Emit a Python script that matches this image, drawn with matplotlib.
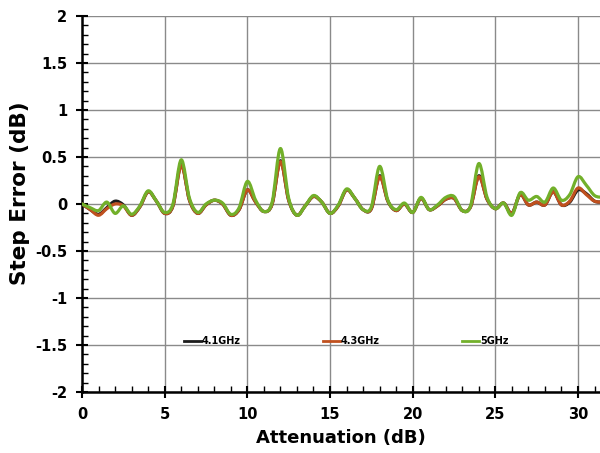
import numpy as np
import matplotlib
matplotlib.use('Agg')
from matplotlib import pyplot as plt
from matplotlib.path import Path
from matplotlib.patches import PathPatch
from matplotlib.lines import Line2D
from matplotlib.ticker import MultipleLocator, FuncFormatter

# attenuation steps (dB)
atten = np.arange(0, 32, 0.5)

err_41 = [0.00, -0.06, -0.11, -0.04, 0.03, -0.01, -0.12, -0.03, 0.13, 0.03,
          -0.10, -0.02, 0.42, 0.04, -0.10, -0.01, 0.04, 0.00, -0.12, -0.06,
          0.15, 0.02, -0.08, 0.00, 0.46, 0.04, -0.12, -0.02, 0.08, 0.02,
          -0.10, -0.02, 0.15, 0.06, -0.06, -0.05, 0.30, 0.03, -0.07, 0.00,
          -0.09, 0.06, -0.06, -0.02, 0.05, 0.06, -0.07, -0.03, 0.30, 0.05,
          -0.05, 0.01, -0.10, 0.10, -0.01, 0.02, -0.01, 0.13, -0.01, 0.02,
          0.15, 0.11, 0.03, 0.02]
err_43 = [0.00, -0.06, -0.12, -0.05, 0.00, -0.02, -0.12, -0.03, 0.13, 0.03,
          -0.10, -0.02, 0.41, 0.04, -0.10, -0.01, 0.04, 0.00, -0.12, -0.06,
          0.15, 0.02, -0.08, 0.00, 0.45, 0.04, -0.12, -0.02, 0.08, 0.02,
          -0.10, -0.02, 0.15, 0.06, -0.06, -0.05, 0.29, 0.03, -0.07, 0.00,
          -0.09, 0.06, -0.06, -0.02, 0.05, 0.06, -0.07, -0.03, 0.29, 0.05,
          -0.05, 0.01, -0.10, 0.10, -0.01, 0.02, -0.01, 0.13, -0.01, 0.03,
          0.17, 0.10, 0.03, 0.02]
err_5 = [0.00, -0.04, -0.07, 0.02, -0.10, -0.02, -0.11, -0.02, 0.14, 0.03,
         -0.09, 0.00, 0.47, 0.06, -0.09, 0.00, 0.04, 0.01, -0.11, -0.04,
         0.24, 0.04, -0.08, 0.02, 0.59, 0.06, -0.12, -0.02, 0.09, 0.02,
         -0.10, -0.01, 0.16, 0.06, -0.06, -0.03, 0.40, 0.04, -0.06, 0.01,
         -0.09, 0.07, -0.06, -0.01, 0.07, 0.08, -0.07, -0.02, 0.43, 0.07,
         -0.05, 0.01, -0.12, 0.12, 0.04, 0.08, 0.02, 0.17, 0.04, 0.10,
         0.29, 0.20, 0.09, 0.07]

labels = ['4.1GHz', '4.3GHz', '5GHz']
colors = ['#1c1c1c', '#c0501e', '#72b02a']


def smooth_path(x, y):
	# excel style smoothed line: catmull-rom segments as cubic beziers
	p = np.column_stack((x, y)).astype(float)
	verts = [p[0]]
	codes = [Path.MOVETO]
	n = len(p)
	for i in range(n - 1):
		p0 = p[max(i - 1, 0)]
		p1 = p[i]
		p2 = p[i + 1]
		p3 = p[min(i + 2, n - 1)]
		verts += [p1 + (p2 - p0) / 6, p2 - (p3 - p1) / 6, p2]
		codes += [Path.CURVE4] * 3
	return Path(verts, codes)


plt.rcParams['font.family'] = 'DejaVu Sans'
plt.rcParams['font.weight'] = 'bold'
plt.rcParams['axes.unicode_minus'] = False

fig = plt.figure(figsize=(6, 4.53), dpi=100)
ax = fig.add_axes([0.1367, 0.1347, 0.8633, 0.83])

for ys, c in zip([err_41, err_43, err_5], colors):
	ax.add_patch(PathPatch(smooth_path(atten, ys), fill=False, edgecolor=c,
						   lw=2.3, capstyle='round', joinstyle='round', zorder=3))

ax.set_xlim(0, 31.33)
ax.set_ylim(-2, 2)
ax.xaxis.set_major_locator(MultipleLocator(5))
ax.xaxis.set_minor_locator(MultipleLocator(1))
ax.yaxis.set_major_locator(MultipleLocator(0.5))
ax.yaxis.set_minor_locator(MultipleLocator(0.1))
ax.yaxis.set_major_formatter(FuncFormatter(lambda v, p: '%g' % v))
ax.grid(True, which='major', color='#8a8a8a', lw=1.0)
ax.set_axisbelow(True)

for s in ['top', 'right']:
	ax.spines[s].set_visible(False)
for s in ['left', 'bottom']:
	ax.spines[s].set_linewidth(1.8)
ax.tick_params(which='major', direction='inout', length=9, width=1.5,
			   labelsize=10.5, pad=6)
ax.tick_params(which='minor', direction='in', length=4, width=1.0)
for t in ax.get_xticklabels() + ax.get_yticklabels():
	t.set_fontweight('bold')

ax.set_xlabel('Attenuation (dB)', fontsize=13, fontweight='bold', labelpad=5)
ax.set_ylabel('Step Error (dB)', fontsize=15.5, fontweight='bold')
ax.yaxis.set_label_coords(-0.1, 0.529)

handles = [Line2D([], [], color=c, lw=2.0) for c in colors]
ax.legend(handles, labels, ncol=3, loc='center', bbox_to_anchor=(0.51, 0.135),
		  frameon=False, handlelength=1.7, handletextpad=0.1, columnspacing=8.5,
		  prop={'size': 7, 'weight': 'bold'})

fig.savefig('out.png', dpi=100)
